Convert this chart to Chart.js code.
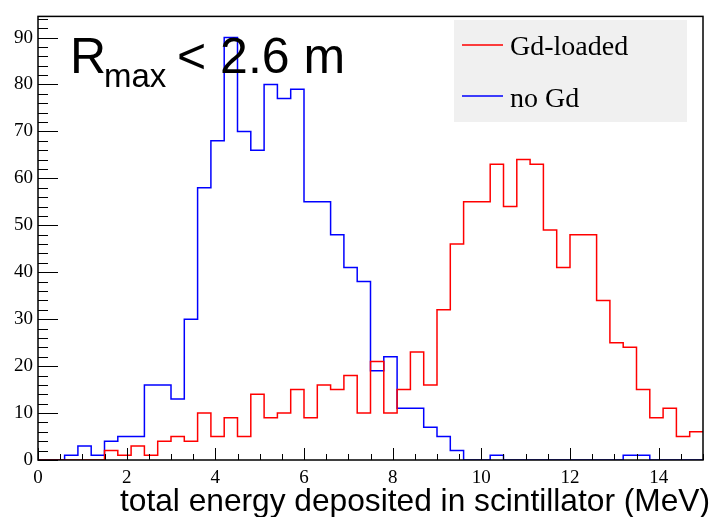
<!DOCTYPE html>
<html>
<head>
<meta charset="utf-8">
<script src="https://cdn.jsdelivr.net/npm/chart.js@4.4.1/dist/chart.umd.min.js"></script>
<style>
  html, body { margin: 0; padding: 0; background: #fff; }
  #wrap { width: 714px; height: 517px; }
</style>
</head>
<body>
<div id="wrap"><canvas id="histo" width="714" height="517"></canvas></div>
<script>
// histogram binning (MeV)
const binWidth = 0.3;
const xMin = 0;
const xMax = 15;

// counts per bin
const gdLoaded = [0, 0, 0, 0, 0, 2, 1, 3, 1, 4,
                  5, 4, 10, 5, 9, 5, 14, 9, 10, 15,
                  9, 16, 15, 18, 10, 21, 10, 15, 23, 16,
                  32, 46, 55, 55, 63, 54, 64, 63, 49, 41,
                  48, 48, 34, 25, 24, 15, 9, 11, 5, 6];
const noGd = [0, 0, 1, 3, 1, 4, 5, 5, 16, 16,
              13, 30, 58, 68, 90, 70, 66, 80, 77, 79,
              55, 55, 48, 41, 38, 19, 22, 11, 11, 7,
              5, 2, 0, 0, 1, 0, 0, 0, 0, 0,
              0, 0, 0, 0, 1, 1, 0, 0, 0, 0];

const seriesNames = ["Gd-loaded", "no Gd"];
const seriesColors = ["#ff0000", "#0000ff"];
const xTitle = "total energy deposited in scintillator (MeV)";
const yTicks = [0, 10, 20, 30, 40, 50, 60, 70, 80, 90];
const xTicks = [0, 2, 4, 6, 8, 10, 12, 14];

// bin edges -> step points (last bin held to the right edge)
function toSteps(counts) {
  const pts = counts.map((c, i) => ({ x: xMin + i * binWidth, y: c }));
  pts.push({ x: xMax, y: counts[counts.length - 1] });
  return pts;
}

// ROOT style frame + inside ticks
const frameTicks = {
  id: "frameTicks",
  afterDatasetsDraw(chart) {
    const { ctx, chartArea: a, scales } = chart;
    ctx.save();
    ctx.strokeStyle = "#000";
    ctx.lineWidth = 1;
    ctx.beginPath();
    for (let v = 0; v <= 94; v += 2) {
      const y = Math.round(scales.y.getPixelForValue(v)) + 0.5;
      const len = v % 10 === 0 ? 20 : 10;
      ctx.moveTo(a.left, y);
      ctx.lineTo(a.left + len, y);
    }
    for (let v = 0; v <= 15; v += 0.5) {
      const x = Math.round(scales.x.getPixelForValue(v)) + 0.5;
      const len = v % 2 === 0 ? 12 : 6;
      ctx.moveTo(x, a.bottom);
      ctx.lineTo(x, a.bottom - len);
    }
    ctx.stroke();
    ctx.lineWidth = 1.5;
    ctx.strokeRect(a.left, a.top, a.right - a.left, a.bottom - a.top);
    ctx.restore();
  },
  afterDraw(chart) {
    const { ctx } = chart;
    ctx.save();
    // legend box
    ctx.fillStyle = "#f0f0f0";
    ctx.fillRect(454, 20, 233, 102);
    ctx.lineWidth = 1.5;
    [45, 96].forEach((y, i) => {
      ctx.strokeStyle = seriesColors[i];
      ctx.beginPath();
      ctx.moveTo(462, y);
      ctx.lineTo(503, y);
      ctx.stroke();
    });
    ctx.fillStyle = "#000";
    ctx.font = "28px 'Liberation Serif', serif";
    ctx.textBaseline = "alphabetic";
    ctx.fillText(seriesNames[0], 510, 55);
    ctx.fillText(seriesNames[1], 510, 107);

    // R_max label
    ctx.font = "50px 'Liberation Sans', Arial, sans-serif";
    ctx.fillText("R", 70, 73);
    ctx.font = "33px 'Liberation Sans', Arial, sans-serif";
    ctx.fillText("max", 104, 87);
    ctx.font = "50px 'Liberation Sans', Arial, sans-serif";
    ctx.fillText("< 2.6 m", 177, 73);

    // x axis title
    ctx.font = "31.7px 'Liberation Sans', Arial, sans-serif";
    ctx.textAlign = "right";
    ctx.fillText(xTitle, 710, 511);
    ctx.restore();
  }
};

new Chart(document.getElementById("histo"), {
  type: "line",
  data: {
    datasets: [
      { label: seriesNames[0], data: toSteps(gdLoaded), borderColor: seriesColors[0] },
      { label: seriesNames[1], data: toSteps(noGd), borderColor: seriesColors[1] }
    ]
  },
  options: {
    responsive: false,
    animation: false,
    layout: { padding: { top: 8, right: 11, left: 0, bottom: 0 } },
    elements: {
      line: { stepped: "before", borderWidth: 1.5, fill: false, tension: 0 },
      point: { radius: 0 }
    },
    plugins: { legend: { display: false }, tooltip: { enabled: false } },
    scales: {
      x: {
        type: "linear",
        min: xMin,
        max: xMax,
        afterFit: s => { s.height = 57; },
        afterBuildTicks: s => { s.ticks = xTicks.map(v => ({ value: v })); },
        grid: { display: false, drawTicks: false },
        border: { display: false },
        ticks: {
          includeBounds: false,
          padding: 7,
          maxRotation: 0,
          color: "#000",
          font: { family: "'Liberation Serif', serif", size: 19 }
        }
      },
      y: {
        min: 0,
        max: 94.5,
        afterFit: s => { s.width = 38; },
        afterBuildTicks: s => { s.ticks = yTicks.map(v => ({ value: v })); },
        grid: { display: false, drawTicks: false },
        border: { display: false },
        ticks: {
          includeBounds: false,
          padding: 5,
          color: "#000",
          font: { family: "'Liberation Serif', serif", size: 19 }
        }
      }
    }
  },
  plugins: [frameTicks]
});
</script>
</body>
</html>
